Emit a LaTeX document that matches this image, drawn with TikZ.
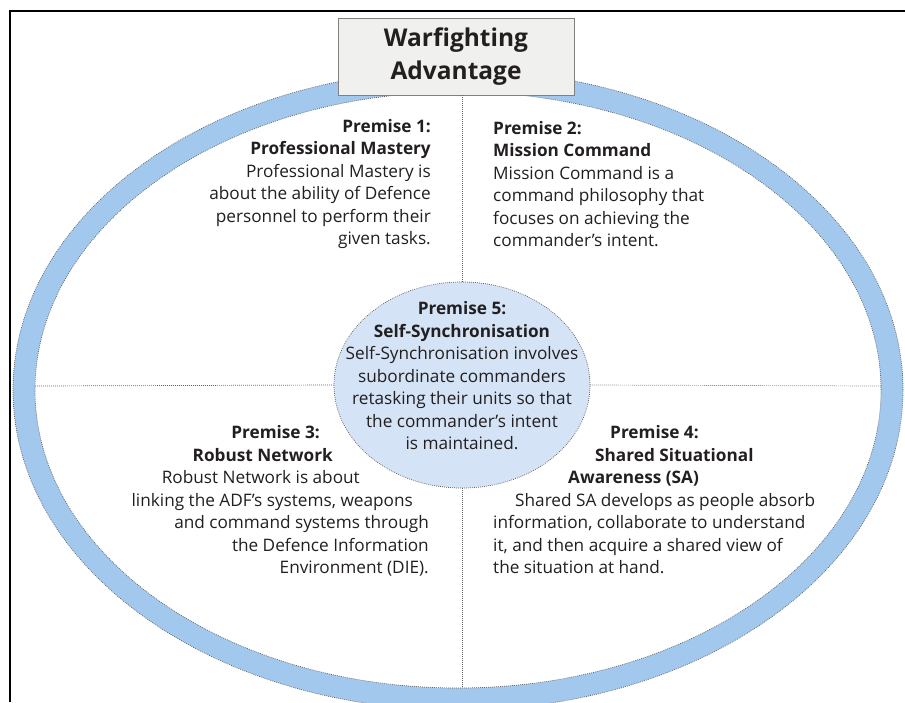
\documentclass[tikz,border=0pt]{standalone}
\usepackage{fontspec}
\setmainfont{Open Sans}
\usepackage{xcolor}
\usetikzlibrary{shapes.geometric,positioning,calc}

\definecolor{ringblue}{RGB}{163,200,238}
\definecolor{syncblue}{RGB}{212,227,245}
\definecolor{dotgray}{RGB}{95,95,95}
\definecolor{inkgray}{RGB}{35,31,32}
\definecolor{boxgray}{RGB}{240,240,238}

\begin{document}
\begin{tikzpicture}[x=1pt,y=-1pt,
  dotline/.style={dotgray, line width=.7pt, dash pattern=on .8pt off 1.2pt},
  premtext/.style={inner sep=0pt, text=inkgray, font=\fontsize{17.2}{22.5}\selectfont},
]

\clip (0,0) rectangle (905,702);
\fill[white] (0,0) rectangle (905,702);

% frame
\draw[line width=1.6pt] (10,702) -- (10,11) -- (905,11);

% blue ring
\fill[ringblue, even odd rule] (458,390) ellipse [x radius=445pt, y radius=320pt]
  (458,390) ellipse [x radius=423pt, y radius=298pt];
\draw[dotline] (458,390) ellipse [x radius=445pt, y radius=320pt];
\draw[dotline] (458,390) ellipse [x radius=423pt, y radius=298pt];

\path
(456,56.5) node[fill=boxgray, draw=gray, minimum width=236pt, minimum height=77pt, align=center, text=inkgray, font=\bfseries\fontsize{24.5}{33}\selectfont] (warin) {Warfighting\\Advantage}
(462,385) node[ellipse, draw=dotgray, dotline, fill=syncblue, minimum width=256pt, minimum height=206pt, inner sep=0pt] (syncin) {}
(35,386) coordinate (leftin)
(881,386) coordinate (rightin)
(462,688) coordinate (botin);

% dividers
\draw[dotline] (warin.south -| syncin.north) -- (syncin.north);
\draw[dotline] (syncin.south) -- (botin);
\draw[dotline] (leftin) -- (syncin.west);
\draw[dotline] (syncin.east) -- (rightin);

\path
(431,184) node[premtext, anchor=east, align=right] (pmin) {\textbf{Premise 1:}\\\textbf{Professional Mastery}\\Professional Mastery is\\about the ability of Defence\\personnel to perform their\\given tasks.}
(493,184) node[premtext, anchor=west, align=left] (mcin) {\textbf{Premise 2:}\\\textbf{Mission Command}\\Mission Command is a\\command philosophy that\\focuses on achieving the\\commander's intent.}
(429,501) node[premtext, anchor=east, align=right] (rnin) {\textbf{Premise 3:}\rule{109pt}{0pt}\\\textbf{Robust Network}\rule{96pt}{0pt}\\Robust Network is about\rule{69pt}{0pt}\\linking the ADF's systems, weapons\rule{16pt}{0pt}\\and command systems through\\the Defence Information\\Environment (DIE).}
(493,500) node[premtext, anchor=west, align=left] (ssain) {\hspace*{117pt}\textbf{Premise 4:}\\\hspace*{102pt}\textbf{Shared Situational}\\\hspace*{75pt}\textbf{Awareness (SA)}\\\hspace*{22pt}Shared SA develops as people absorb\\information, collaborate to understand\\it, and then acquire a shared view of\\the situation at hand.}
(462,376) node[premtext, align=center] (synctxt) {\textbf{Premise 5:}\\\textbf{Self-Synchronisation}\\Self-Synchronisation involves\\subordinate commanders\\retasking their units so that\\the commander's intent\\is maintained.};

\end{tikzpicture}
\end{document}
